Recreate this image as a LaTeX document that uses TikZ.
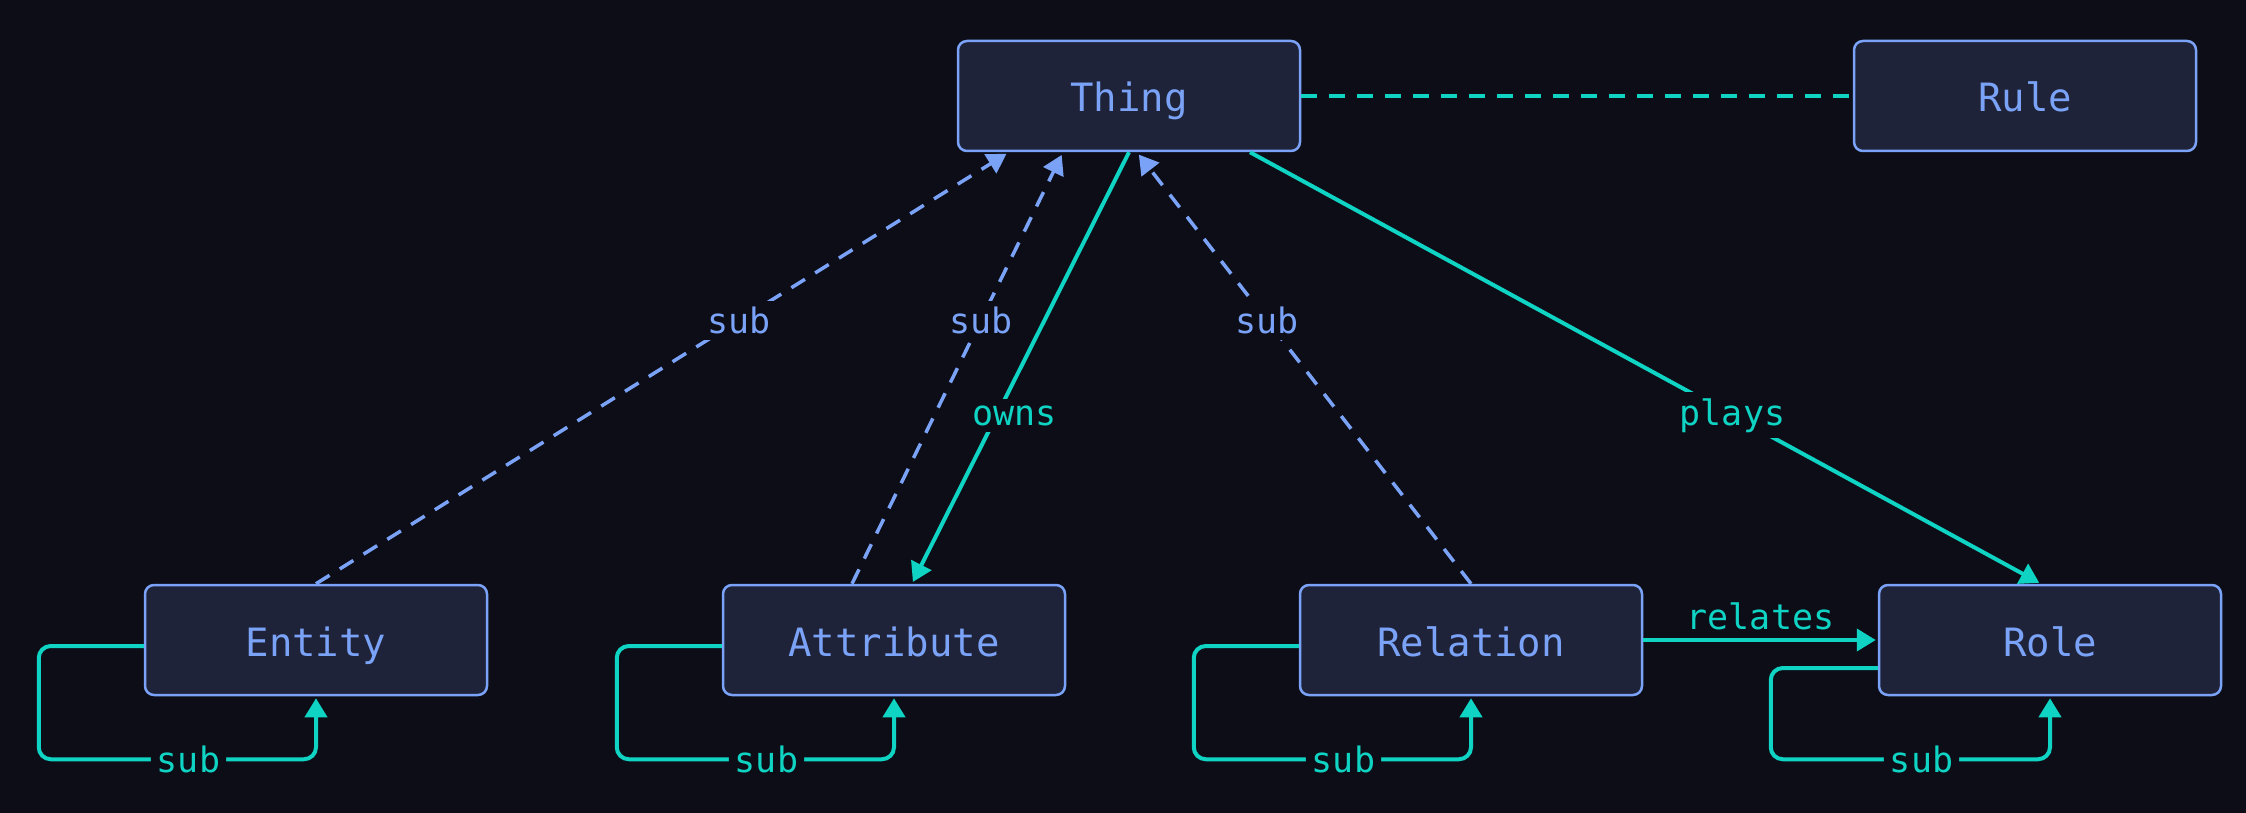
\documentclass[tikz,border=0pt]{standalone}
\usepackage{fontspec}
\setmonofont{DejaVu Sans Mono}
\usepackage{xcolor}
\usepackage{tikz}
\usetikzlibrary{arrows.meta,positioning}

\definecolor{bgdark}{HTML}{0D0D17}
\definecolor{boxfill}{HTML}{1F2339}
\definecolor{typeblue}{HTML}{7AA2F7}
\definecolor{linkteal}{HTML}{0FD4C4}

\begin{document}
\begin{tikzpicture}[
    x=1pt,y=-1pt,
    typebox/.style={draw=typeblue,fill=boxfill,rounded corners=9pt,line width=2.5pt,
                    minimum width=342pt,minimum height=110pt,text=typeblue,
                    text height=32pt,text depth=0pt,
                    font=\ttfamily\fontsize{39}{46}\selectfont},
    lbl/.style={fill=bgdark,inner sep=6pt,font=\ttfamily\fontsize{35}{42}\selectfont},
    subedge/.style={draw=typeblue,line width=3.5pt,dash pattern=on 16pt off 12pt,
                    -{Triangle[length=19pt,width=22pt]},shorten >=3pt},
    link/.style={draw=linkteal,line width=4pt,-{Triangle[length=19pt,width=22pt]},shorten >=2pt},
    selfloop/.style={link,rounded corners=12pt}
]
\fill[bgdark] (0,0) rectangle (2246,813);
\useasboundingbox (0,0) rectangle (2246,813);

\node[typebox] (thing) at (1129,96) {Thing};
\node[typebox] (rule) at (2025,96) {Rule};
\node[typebox] (entity) at (316,640) {Entity};
\node[typebox] (attribute) at (894,640) {Attribute};
\node[typebox] (relation) at (1471,640) {Relation};
\node[typebox] (role) at (2050,640) {Role};

% rule hangs off thing
\draw[draw=linkteal,line width=3.5pt,dash pattern=on 16pt off 12pt] (thing) -- (rule);

% sub edges up to thing
\draw[subedge] (entity.north) --
    node[pos=0.61,lbl,text=typeblue] {sub} ([xshift=-120pt]thing.south);
\draw[subedge] ([xshift=-42pt]attribute.north) --
    node[pos=0.61,lbl,text=typeblue] {sub} ([xshift=-66pt]thing.south);
\draw[subedge] (relation.north) --
    node[pos=0.61,lbl,text=typeblue] {sub} ([xshift=8pt]thing.south);

% owns, plays, relates
\draw[link] (thing.south) --
    node[pos=0.61,lbl,text=linkteal,xshift=18pt] {owns} ([xshift=18pt]attribute.north);
\draw[link] ([xshift=121pt]thing.south) --
    node[pos=0.61,lbl,text=linkteal] {plays} ([xshift=-9pt]role.north);
\draw[link] (relation.east) --
    node[above,text=linkteal,inner sep=8pt,font=\ttfamily\fontsize{35}{42}\selectfont] {relates} (role.west);

% self loops
\draw[selfloop] ([yshift=-6pt]entity.west) -- ++(-105,0) |-
    node[pos=0.77,lbl,text=linkteal] {sub} ([yshift=-63pt]entity.south) -- (entity.south);
\draw[selfloop] ([yshift=-6pt]attribute.west) -- ++(-105,0) |-
    node[pos=0.77,lbl,text=linkteal] {sub} ([yshift=-63pt]attribute.south) -- (attribute.south);
\draw[selfloop] ([yshift=-6pt]relation.west) -- ++(-105,0) |-
    node[pos=0.77,lbl,text=linkteal] {sub} ([yshift=-63pt]relation.south) -- (relation.south);
\draw[selfloop] ([yshift=-28pt]role.west) -- ++(-107,0) |-
    node[pos=0.77,lbl,text=linkteal] {sub} ([yshift=-63pt]role.south) -- (role.south);
\end{tikzpicture}
\end{document}
